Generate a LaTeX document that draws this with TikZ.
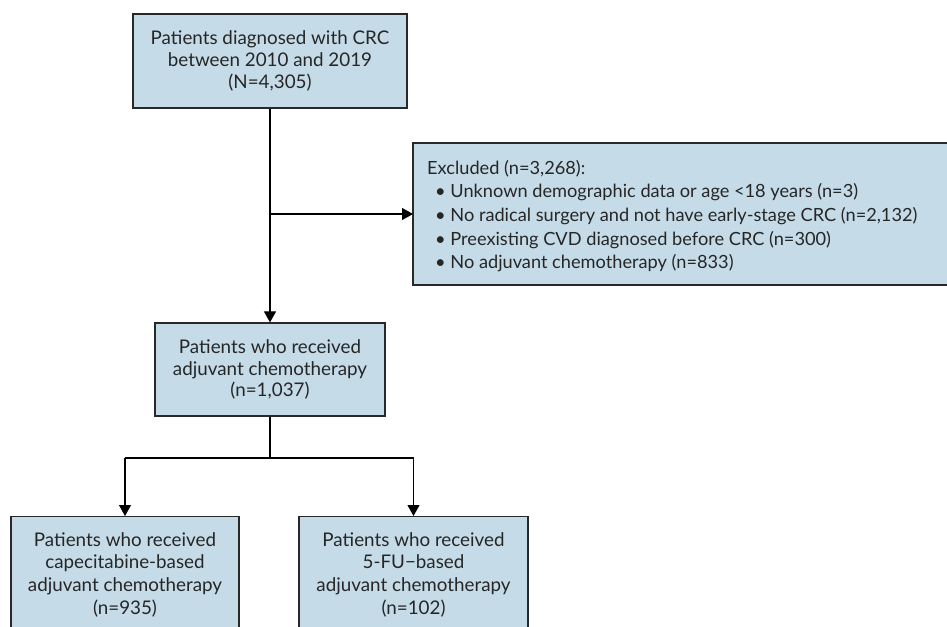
\documentclass[tikz,border=0pt]{standalone}
\usepackage{fontspec}
\setmainfont{Lato}
\usetikzlibrary{arrows.meta}
\definecolor{boxfill}{RGB}{197,220,232}
\definecolor{boxline}{RGB}{40,40,40}
\tikzset{
  flowbox/.style={draw=boxline, line width=1.2pt, fill=boxfill, align=center, inner sep=0pt,
    font=\fontsize{18.8}{21.8}\selectfont, text=black!85},
  conn/.style={line width=1.1pt, draw=black},
  arr/.style={conn, -{Triangle[length=11pt,width=12pt]}}
}
\begin{document}
\begin{tikzpicture}[x=1pt,y=-1pt]
\useasboundingbox (0,0) rectangle (947,626);
% boxes
\node[flowbox, minimum width=274pt, minimum height=94pt] (top) at (270,61)
  {Patients diagnosed with CRC\\between 2010 and 2019\\(N=4,305)};
\node[flowbox, minimum width=230pt, minimum height=93pt] (mid) at (270,369.5)
  {Patients who received\\adjuvant chemotherapy\\(n=1,037)};
\path[flowbox, draw=boxline] (413,143) rectangle (960,285);
\coordinate (exw) at (413,214);
\node[anchor=north west, align=left, inner sep=0pt, font=\fontsize{18.2}{23.6}\selectfont, text=black!85] (extext) at (427,160)
  {Excluded (n=3,268):\\
   \hspace*{8pt}\textbullet\ Unknown demographic data or age <18 years (n=3)\\
   \hspace*{8pt}\textbullet\ No radical surgery and not have early-stage CRC (n=2,132)\\
   \hspace*{8pt}\textbullet\ Preexisting CVD diagnosed before CRC (n=300)\\
   \hspace*{8pt}\textbullet\ No adjuvant chemotherapy (n=833)};
\node[flowbox, minimum width=228pt, minimum height=130pt, anchor=north] (bl) at (125,516) {};
\node[flowbox, minimum width=229pt, minimum height=130pt, anchor=north] (br) at (413.5,516) {};
\node[anchor=north, align=center, inner sep=0pt, font=\fontsize{18.8}{22.8}\selectfont, text=black!85] (bltext) at (125,532)
  {Patients who received\\capecitabine-based\\adjuvant chemotherapy\\(n=935)};
\node[anchor=north, align=center, inner sep=0pt, font=\fontsize{18.8}{22.8}\selectfont, text=black!85] (brtext) at (413.5,532)
  {Patients who received\\5-FU\textminus based\\adjuvant chemotherapy\\(n=102)};
% connectors
\coordinate (j1) at (270,214);
\coordinate (j2) at (270,458);
\coordinate (jl) at (125,458);
\coordinate (jr) at (413.5,458);
\draw[arr] (top.south) -- (mid.north);
\draw[arr] (j1) -- (exw);
\draw[conn] (mid.south) -- (j2);
\draw[conn] (jl) -- (jr);
\draw[arr] (jl) -- (bl.north);
\draw[arr] (jr) -- (br.north);
\end{tikzpicture}
\end{document}
